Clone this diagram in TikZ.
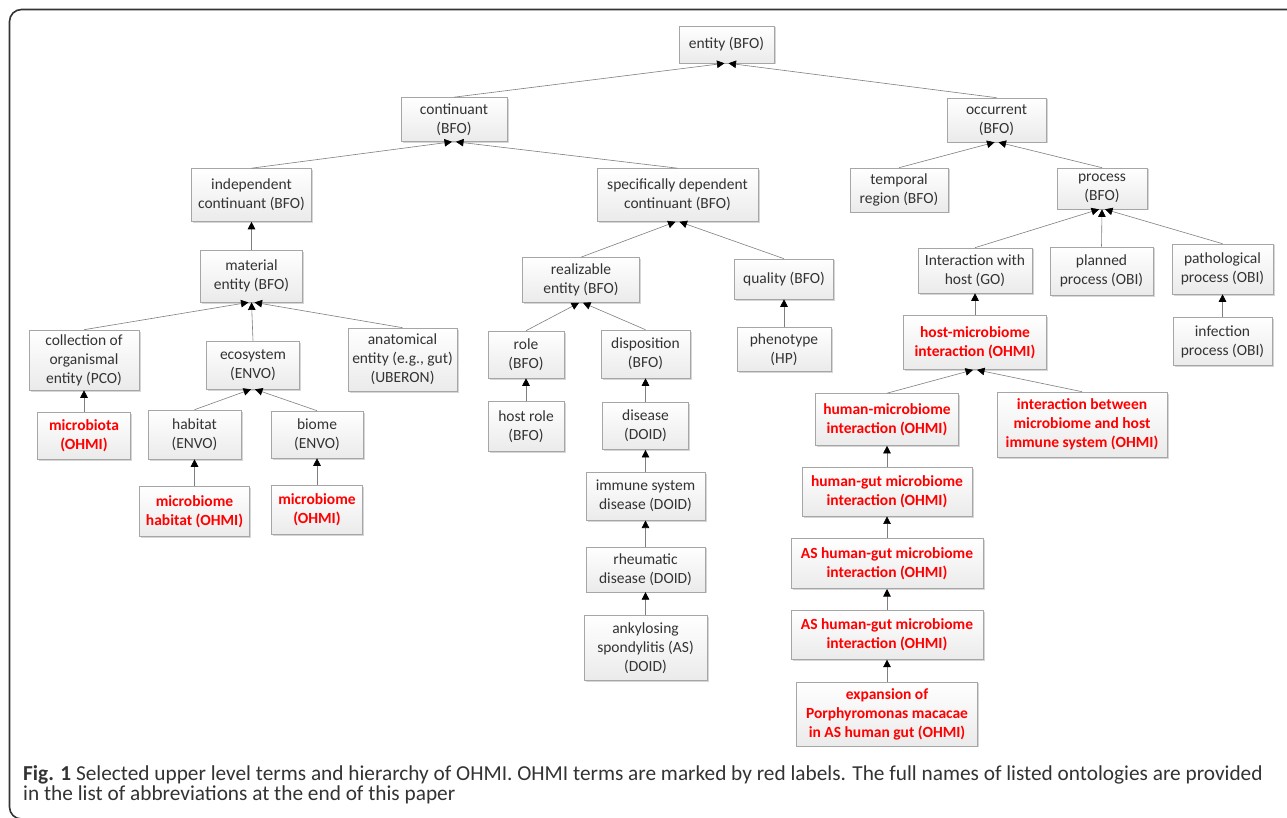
\documentclass[tikz,border=0pt]{standalone}
\usepackage{fontspec}
\setmainfont{Carlito}
\usetikzlibrary{positioning, arrows.meta, shadows}
\usepackage{xcolor}
\definecolor{termred}{HTML}{FF0000}
\definecolor{termline}{HTML}{A6A6A6}
\definecolor{edgegray}{HTML}{7F7F7F}
\definecolor{capgray}{HTML}{333333}
\newcommand{\termfont}{\fontsize{15.5}{19}\selectfont}
\newcommand{\capfont}{\fontsize{21.3}{20.5}\selectfont}

\begin{document}
\begin{tikzpicture}[
    x=1pt, y=-1pt,
    node distance=22pt,
    term/.style={
        rectangle, draw=termline, line width=0.6pt,
        top color=white, bottom color=gray!16,
        drop shadow={shadow xshift=1.5pt, shadow yshift=-1.5pt,
            fill=gray!70, opacity=0.45},
        align=center, font=\termfont, text=black!80, inner sep=2pt,
    },
    ohmi/.style={term, font=\termfont\bfseries, text=termred},
    isa/.style={draw=edgegray, line width=0.6pt,
        -{Triangle[length=7.5pt, width=7.5pt, color=black]}},
    capnode/.style={anchor=north west, inner sep=0pt, align=left,
        font=\capfont, text=capgray}
]
\useasboundingbox (0,0) rectangle (1287,818);
\fill[white] (0,0) rectangle (1287,818);

% Frame
\draw[line width=1.6pt, black!80, rounded corners=12pt]
    (1300,9.5) -- (9.5,9.5) -- (9.5,819) -- (60,819);

% Top levels
\node[term, minimum width=95pt, minimum height=37pt] (ent) at (726.5,44.5) {entity (BFO)};
\node[term, minimum width=106pt, minimum height=44pt] (cont) at (454,119.5) {continuant\\(BFO)};
\node[term, minimum width=99pt, minimum height=44pt] (occ) at (996.5,120) {occurrent\\(BFO)};
\node[term, minimum width=120pt, minimum height=53pt] (indep) at (251.5,195) {independent\\continuant (BFO)};
\node[term, minimum width=161pt, minimum height=53pt] (sdc) at (677.5,195) {specifically dependent\\continuant (BFO)};
\node[term, minimum width=98pt, minimum height=44pt] (temp) at (899,190) {temporal\\region (BFO)};
\node[term, minimum width=90pt, minimum height=41pt] (proc) at (1102,188.5) {process\\(BFO)};

% Continuant branch
\node[term, minimum width=102pt, minimum height=52pt, below=28pt of indep] (mat) {material\\entity (BFO)};
\node[term, minimum width=117pt, minimum height=45pt] (real) at (581,280) {realizable\\entity (BFO)};
\node[term, minimum width=99pt, minimum height=40pt] (qual) at (784,279) {quality (BFO)};
\node[term, minimum width=110pt, minimum height=60pt] (coll) at (84,360) {collection of\\organismal\\entity (PCO)};
\node[term, minimum width=93pt, minimum height=48pt] (eco) at (253,365) {ecosystem\\(ENVO)};
\node[term, minimum width=109pt, minimum height=63pt] (anat) at (402.5,359.5) {anatomical\\entity (e.g., gut)\\(UBERON)};
\node[term, minimum width=76pt, minimum height=47pt] (role) at (526,354.5) {role\\(BFO)};
\node[term, minimum width=89pt, minimum height=48pt] (disp) at (645.5,354) {disposition\\(BFO)};
\node[term, minimum width=94pt, minimum height=44pt, below=28pt of qual] (pheno) {phenotype\\(HP)};
\node[ohmi, minimum width=93pt, minimum height=47pt, below=22pt of coll] (mbiota) {microbiota\\(OHMI)};
\node[term, minimum width=93pt, minimum height=49pt] (habitat) at (194.5,434.5) {habitat\\(ENVO)};
\node[term, minimum width=92pt, minimum height=47pt] (biome) at (317,434.5) {biome\\(ENVO)};
\node[ohmi, minimum width=110pt, minimum height=50pt, below=27pt of habitat] (mbhab) {microbiome\\habitat (OHMI)};
\node[ohmi, minimum width=91pt, minimum height=49pt, below=27pt of biome] (mbiome) {microbiome\\(OHMI)};
\node[term, minimum width=76pt, minimum height=50pt, below=23pt of role] (hrole) {host role\\(BFO)};

% Disease chain
\node[term, minimum width=86pt, minimum height=47pt, below=24pt of disp] (disease) {disease\\(DOID)};
\node[term, minimum width=119pt, minimum height=48pt, below=of disease] (immdis) {immune system\\disease (DOID)};
\node[term, minimum width=119pt, minimum height=45pt, below=26pt of immdis] (rheum) {rheumatic\\disease (DOID)};
\node[term, minimum width=123pt, minimum height=65pt, below=23pt of rheum] (ankyl) {ankylosing\\spondylitis (AS)\\(DOID)};

% Occurrent branch
\node[term, minimum width=114pt, minimum height=45pt] (inter) at (975,270.5) {Interaction with\\host (GO)};
\node[term, minimum width=103pt, minimum height=48pt] (plan) at (1101.5,271) {planned\\process (OBI)};
\node[term, minimum width=101pt, minimum height=50pt] (patho) at (1222.5,269) {pathological\\process (OBI)};
\node[term, minimum width=99pt, minimum height=48pt, below=23pt of patho] (infect) {infection\\process (OBI)};
\node[ohmi, minimum width=143pt, minimum height=54pt, below=22pt of inter] (hmi) {host-microbiome\\interaction (OHMI)};
\node[ohmi, minimum width=170pt, minimum height=65pt] (immint) at (1082,424.5) {interaction between\\microbiome and host\\immune system (OHMI)};

% Interaction chain
\node[ohmi, minimum width=143pt, minimum height=52pt] (human) at (887,419.5) {human-microbiome\\interaction (OHMI)};
\node[ohmi, minimum width=170pt, minimum height=49pt, below=21pt of human] (gut) {human-gut microbiome\\interaction (OHMI)};
\node[ohmi, minimum width=192pt, minimum height=50pt, below=of gut] (as1) {AS human-gut microbiome\\interaction (OHMI)};
\node[ohmi, minimum width=192pt, minimum height=49pt, below=21pt of as1] (as2) {AS human-gut microbiome\\interaction (OHMI)};
\node[ohmi, minimum width=181pt, minimum height=64pt, below=of as2] (expan) {expansion of\\Porphyromonas macacae\\in AS human gut (OHMI)};

% --- is-a links ---
\draw[isa] (cont.north) -- ([xshift=-2pt]ent.south);
\draw[isa] (occ.north) -- ([xshift=2pt]ent.south);
\draw[isa] (indep.north) -- ([xshift=-2pt]cont.south);
\draw[isa] (sdc.north) -- ([xshift=2pt]cont.south);
\draw[isa] (temp.north) -- ([xshift=-2pt]occ.south);
\draw[isa] (proc.north) -- ([xshift=2pt]occ.south);
\draw[isa] (mat.north) -- (indep.south);
\draw[isa] (real.north) -- ([xshift=-2pt]sdc.south);
\draw[isa] (qual.north) -- ([xshift=2pt]sdc.south);
\draw[isa] (inter.north) -- ([xshift=-3pt]proc.south);
\draw[isa] (plan.north) -- (proc.south);
\draw[isa] (patho.north) -- ([xshift=3pt]proc.south);
\draw[isa] (coll.north) -- ([xshift=-3pt]mat.south);
\draw[isa] (eco.north) -- (mat.south);
\draw[isa] (anat.north) -- ([xshift=3pt]mat.south);
\draw[isa] (role.north) -- ([xshift=-2pt]real.south);
\draw[isa] (disp.north) -- ([xshift=2pt]real.south);
\draw[isa] (pheno.north) -- (qual.south);
\draw[isa] (mbiota.north) -- (coll.south);
\draw[isa] (habitat.north) -- ([xshift=-2pt]eco.south);
\draw[isa] (biome.north) -- ([xshift=2pt]eco.south);
\draw[isa] (mbhab.north) -- (habitat.south);
\draw[isa] (mbiome.north) -- (biome.south);
\draw[isa] (hrole.north) -- (role.south);
\draw[isa] (disease.north) -- (disp.south);
\draw[isa] (immdis.north) -- (disease.south);
\draw[isa] (rheum.north) -- (immdis.south);
\draw[isa] (ankyl.north) -- (rheum.south);
\draw[isa] (infect.north) -- (patho.south);
\draw[isa] (hmi.north) -- (inter.south);
\draw[isa] (human.north) -- ([xshift=-2pt]hmi.south);
\draw[isa] (immint.north) -- ([xshift=2pt]hmi.south);
\draw[isa] (gut.north) -- (human.south);
\draw[isa] (as1.north) -- (gut.south);
\draw[isa] (as2.north) -- (as1.south);
\draw[isa] (expan.north) -- (as2.south);

% Caption
\node[capnode] (cap) at (23,765)
    {\textbf{Fig. 1} Selected upper level terms and hierarchy of OHMI. OHMI terms are marked by red labels. The full names of listed ontologies are provided\\
     in the list of abbreviations at the end of this paper};

\end{tikzpicture}
\end{document}
